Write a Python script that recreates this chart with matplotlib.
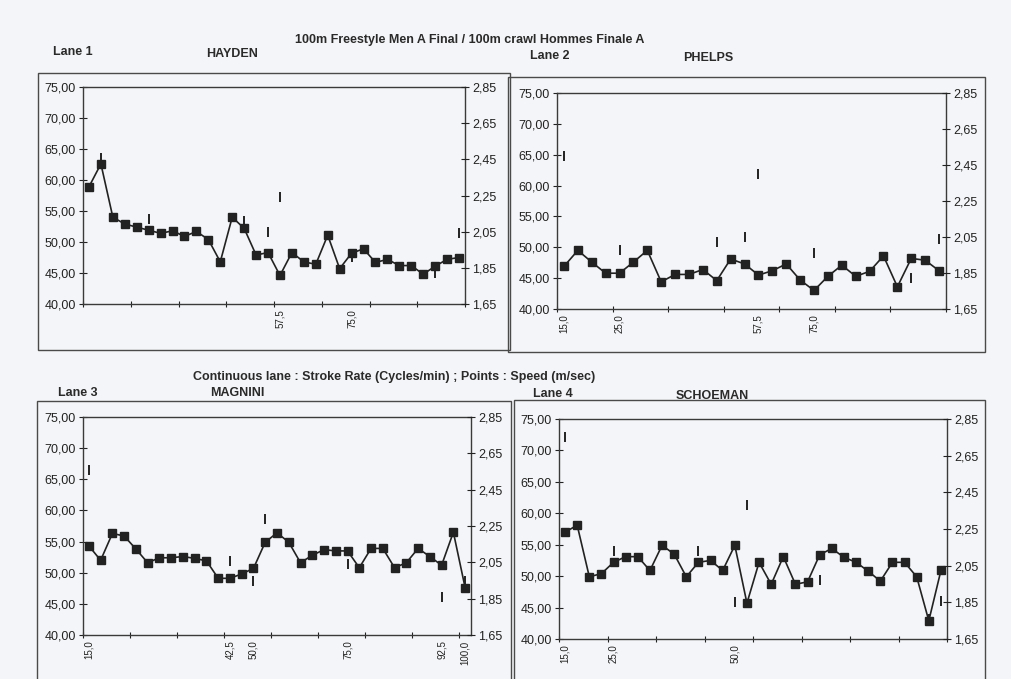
import matplotlib.pyplot as plt
from matplotlib.patches import Rectangle

plt.rcParams['font.family'] = ['Liberation Sans', 'DejaVu Sans']

# ---- data ----
title_top = '100m Freestyle Men A Final / 100m crawl Hommes Finale A'
title_mid = 'Continuous lane : Stroke Rate (Cycles/min) ; Points : Speed (m/sec)'

lanes = ['Lane 1', 'Lane 2', 'Lane 3', 'Lane 4']
swimmers = ['HAYDEN', 'PHELPS', 'MAGNINI', 'SCHOEMAN']

# stroke rate (cycles/min), one value per stroke cycle
hayden_rate = [58.9, 62.6, 54.0, 52.9, 52.4, 51.9, 51.4, 51.8, 50.9, 51.7,
               50.4, 46.8, 54.0, 52.2, 47.9, 48.3, 44.6, 48.3, 46.8, 46.4,
               51.1, 45.7, 48.2, 48.9, 46.7, 47.2, 46.2, 46.2, 44.8, 46.1,
               47.2, 47.5]
phelps_rate = [46.9, 49.5, 47.6, 45.8, 45.8, 47.6, 49.5, 44.4, 45.6, 45.6,
               46.4, 44.6, 48.1, 47.3, 45.5, 46.2, 47.3, 44.7, 43.0, 45.3,
               47.1, 45.3, 46.1, 48.6, 43.6, 48.2, 47.9, 46.2]
magnini_rate = [54.3, 52.0, 56.3, 55.9, 53.8, 51.6, 52.4, 52.4, 52.6, 52.3,
                51.9, 49.1, 49.1, 49.8, 50.7, 54.9, 56.4, 54.9, 51.6, 52.8,
                53.7, 53.5, 53.5, 50.8, 53.9, 53.9, 50.8, 51.6, 53.9, 52.6,
                51.2, 56.5, 47.6]
schoeman_rate = [57.0, 58.1, 49.9, 50.4, 52.2, 53.1, 53.1, 50.9, 54.9, 53.5,
                 49.9, 52.2, 52.5, 50.9, 54.9, 45.7, 52.2, 48.7, 53.1, 48.7,
                 49.1, 53.4, 54.4, 53.0, 52.2, 50.8, 49.2, 52.2, 52.2, 49.9,
                 42.9, 50.9]

# speed points (m/sec) at some cycles only
hayden_speed_idx = [1, 5, 13, 15, 16, 22, 29, 31]
hayden_speed = [2.46, 2.12, 2.11, 2.05, 2.24, 1.91, 1.82, 2.04]
phelps_speed_idx = [0, 4, 11, 13, 14, 18, 25, 27]
phelps_speed = [2.50, 1.98, 2.02, 2.05, 2.40, 1.96, 1.82, 2.04]
magnini_speed_idx = [0, 12, 14, 15, 22, 30, 32]
magnini_speed = [2.56, 2.06, 1.95, 2.29, 2.04, 1.86, 1.95]
schoeman_speed_idx = [0, 4, 11, 14, 15, 21, 30, 31]
schoeman_speed = [2.75, 2.13, 2.13, 1.85, 2.38, 1.97, 1.76, 1.86]

# distance labels shown under some cycles
hayden_xlab = {16: '57,5', 22: '75,0'}
phelps_xlab = {0: '15,0', 4: '25,0', 14: '57,5', 18: '75,0'}
magnini_xlab = {0: '15,0', 12: '42,5', 14: '50,0', 22: '75,0', 30: '92,5', 32: '100,0'}
schoeman_xlab = {0: '15,0', 4: '25,0', 14: '50,0'}

rate_ticks = [40, 45, 50, 55, 60, 65, 70, 75]
rate_labels = ['40,00', '45,00', '50,00', '55,00', '60,00', '65,00', '70,00', '75,00']
speed_ticks = [1.65, 1.85, 2.05, 2.25, 2.45, 2.65, 2.85]
speed_labels = ['1,65', '1,85', '2,05', '2,25', '2,45', '2,65', '2,85']

# ---- layout (pixels on a 1011x679 sheet) ----
W, H = 1011, 679
ink = '#222222'
paper = '#f4f5f8'

fig = plt.figure(figsize=(W / 100, H / 100), dpi=100, facecolor=paper)


def fx(x):
    return x / W


def fy(y):
    return 1 - y / H


def box(l, t, r, b):
    fig.patches.append(Rectangle((fx(l), fy(b)), fx(r - l), fy(t) - fy(b),
                                 transform=fig.transFigure, fill=False,
                                 edgecolor='#4a4a4a', lw=1.0))


def panel(rect, rate, sp_idx, sp, xlab):
    l, t, r, b = rect
    ax = fig.add_axes([fx(l), fy(b), fx(r - l), fy(t) - fy(b)])
    ax.set_facecolor('none')
    n = len(rate)
    ax.plot(range(n), rate, color=ink, lw=1.2, marker='s', ms=5.5,
            mfc=ink, mec=ink, zorder=3)
    ax.set_xlim(-0.5, n - 0.5)
    ax.set_ylim(40, 75)
    ax.set_yticks(rate_ticks)
    ax.set_yticklabels(rate_labels)
    ax.set_xticks([k - 0.5 for k in range(0, n + 1, 4)])
    ax.set_xticklabels([])
    ax.set_xticks(list(xlab.keys()), minor=True)
    ax.set_xticklabels(list(xlab.values()), minor=True, rotation=90,
                       fontsize=7, color=ink)
    ax.tick_params(axis='x', which='minor', length=0, pad=4)
    ax.tick_params(axis='x', which='major', direction='inout', length=5,
                   color=ink)
    ax.tick_params(axis='y', direction='inout', length=6, labelsize=9,
                   color=ink, labelcolor=ink, pad=2)
    for s in ax.spines.values():
        s.set_color('#3a3a3a')
        s.set_linewidth(1.0)

    ax2 = ax.twinx()
    ax2.set_ylim(1.65, 2.85)
    ax2.set_yticks(speed_ticks)
    ax2.set_yticklabels(speed_labels)
    ax2.tick_params(axis='y', direction='inout', length=6, labelsize=9,
                    color=ink, labelcolor=ink, pad=2)
    ax2.plot(sp_idx, sp, linestyle='none', marker='|', ms=7, mew=1.4,
             color=ink, zorder=4)
    for s in ax2.spines.values():
        s.set_visible(False)
    return ax


box(38, 73, 510, 350)
box(508, 77, 985, 352)
box(37, 401, 511, 700)
box(514, 400, 985, 700)

panel((83, 87, 465, 304), hayden_rate, hayden_speed_idx, hayden_speed, hayden_xlab)
panel((557, 93, 946, 309), phelps_rate, phelps_speed_idx, phelps_speed, phelps_xlab)
panel((83, 417, 471, 635), magnini_rate, magnini_speed_idx, magnini_speed, magnini_xlab)
panel((559, 419, 947, 639), schoeman_rate, schoeman_speed_idx, schoeman_speed, schoeman_xlab)

tkw = dict(fontsize=9, fontweight='bold', color='#2a2a2a', va='center')
fig.text(fx(470), fy(40), title_top, ha='center', **tkw)
fig.text(fx(394), fy(377), title_mid, ha='center', **tkw)

lane_pos = [(53, 52), (530, 56), (58, 393), (533, 394)]
name_pos = [(232, 54), (708, 58), (237, 393), (712, 396)]
for lane, name, lp, npos in zip(lanes, swimmers, lane_pos, name_pos):
    fig.text(fx(lp[0]), fy(lp[1]), lane, ha='left', **tkw)
    fig.text(fx(npos[0]), fy(npos[1]), name, ha='center', **tkw)

fig.savefig('out.png', dpi=100, facecolor=paper)
